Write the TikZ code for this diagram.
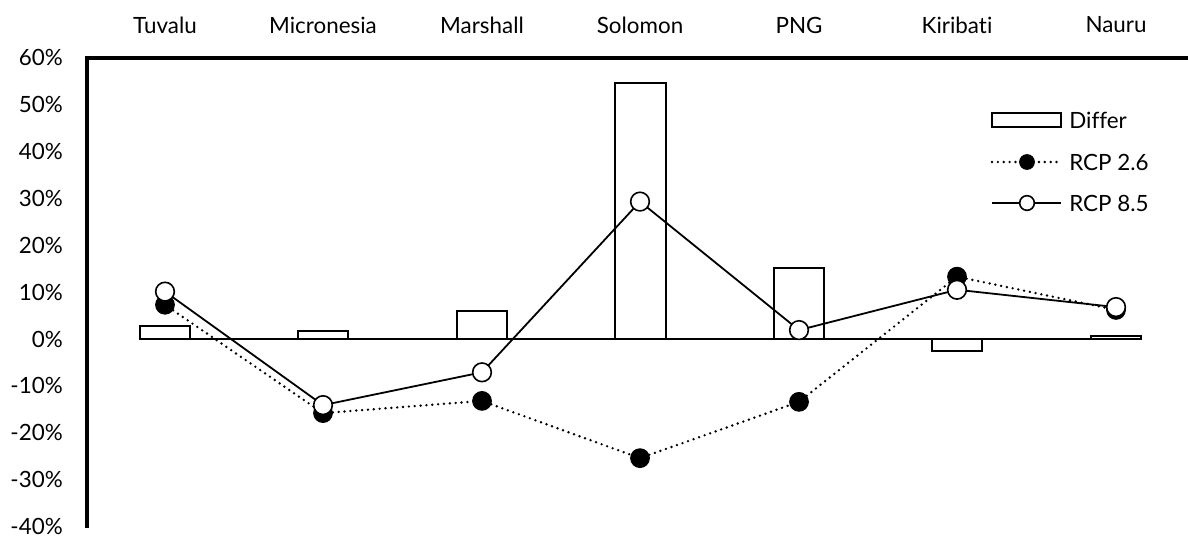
\documentclass[tikz,border=0pt]{standalone}
\usepackage{fontspec}
\setmainfont{Lato}[Ligatures={NoCommon}]
\begin{document}
\begin{tikzpicture}[x=0.75pt,y=-0.75pt,
  lbl/.style={font=\fontsize{16.8}{20}\selectfont, inner sep=0pt},
  bar/.style={draw, line width=1.3pt, fill=white},
  fdot/.style={circle, fill=black, draw=black, line width=0.8pt, minimum size=14pt, inner sep=0pt},
  odot/.style={circle, fill=white, draw=black, line width=1.2pt, minimum size=14pt, inner sep=0pt},
  lfdot/.style={fdot, minimum size=11pt},
  lodot/.style={odot, minimum size=11pt},
  dotline/.style={line width=2pt, line cap=round, dash pattern=on 0pt off 4.4pt},
  sline/.style={line width=1.35pt},
  axis/.style={line width=2.3pt, line join=miter},
  zline/.style={line width=1.9pt}
]
\useasboundingbox (0,0) rectangle (1188,536);
% category labels
\foreach \x/\n/\t in {165/c1/Tuvalu, 323/c2/Micronesia, 482/c3/Marshall, 640/c4/Solomon, 799/c5/PNG, 957/c6/Kiribati, 1116/c7/Nauru}
  \node[lbl] (\n) at (\x,25) {\t};
% y labels
\foreach \v in {60,50,40,30,20,10,0,-10,-20,-30,-40}
  \node[lbl, anchor=east] (y\v) at (63,{339-4.69*\v}) {\v\%};
% axes
\draw[axis] (1188,58) -- (87,58) -- (87,528);
% bars
\draw[bar] (140,339) rectangle (190,{339-4.69*2.8});
\draw[bar] (298,339) rectangle (348,{339-4.69*1.7});
\draw[bar] (457,339) rectangle (507,{339-4.69*6.0});
\draw[bar] (615,339) rectangle (666,{339-4.69*54.6});
\draw[bar] (774,339) rectangle (824,{339-4.69*15.2});
\draw[bar] (932,339) rectangle (982,{339-4.69*(-2.6)});
\draw[bar] (1091,339) rectangle (1141,{339-4.69*0.7});
% zero line
\coordinate (z0) at (165,339);
\coordinate (z1) at (1116,339);
\draw[zline] (z0) -- (z1);
% RCP 2.6
\node[fdot] (a1) at (165,{339-4.69*7.3}) {};
\node[fdot] (a2) at (323,{339-4.69*(-15.8)}) {};
\node[fdot] (a3) at (482,{339-4.69*(-13.2)}) {};
\node[fdot] (a4) at (640,{339-4.69*(-25.4)}) {};
\node[fdot] (a5) at (799,{339-4.69*(-13.4)}) {};
\node[fdot] (a6) at (957,{339-4.69*13.3}) {};
\node[fdot] (a7) at (1116,{339-4.69*6.2}) {};
\draw[dotline] (a1) -- (a2) -- (a3) -- (a4) -- (a5) -- (a6) -- (a7);
% RCP 8.5
\draw[sline] (165,{339-4.69*10.1}) -- (323,{339-4.69*(-14.1)}) -- (482,{339-4.69*(-7.1)}) -- (640,{339-4.69*29.3}) -- (799,{339-4.69*1.9}) -- (957,{339-4.69*10.5}) -- (1116,{339-4.69*6.8});
\node[odot] (b1) at (165,{339-4.69*10.1}) {};
\node[odot] (b2) at (323,{339-4.69*(-14.1)}) {};
\node[odot] (b3) at (482,{339-4.69*(-7.1)}) {};
\node[odot] (b4) at (640,{339-4.69*29.3}) {};
\node[odot] (b5) at (799,{339-4.69*1.9}) {};
\node[odot] (b6) at (957,{339-4.69*10.5}) {};
\node[odot] (b7) at (1116,{339-4.69*6.8}) {};
% legend
\draw[bar] (992,113) rectangle (1061,127);
\node[lbl, anchor=west] (l1) at (1069,120) {Differ};
\coordinate (p1) at (992,162);
\coordinate (p2) at (1061,162);
\draw[dotline] (p1) -- (p2);
\node[lfdot] (m1) at (1027,162) {};
\node[lbl, anchor=west] (l2) at (1069,162) {RCP 2.6};
\coordinate (q1) at (992,203);
\coordinate (q2) at (1061,203);
\draw[sline] (q1) -- (q2);
\node[lodot] (m2) at (1027,203) {};
\node[lbl, anchor=west] (l3) at (1069,203) {RCP 8.5};
\end{tikzpicture}
\end{document}
